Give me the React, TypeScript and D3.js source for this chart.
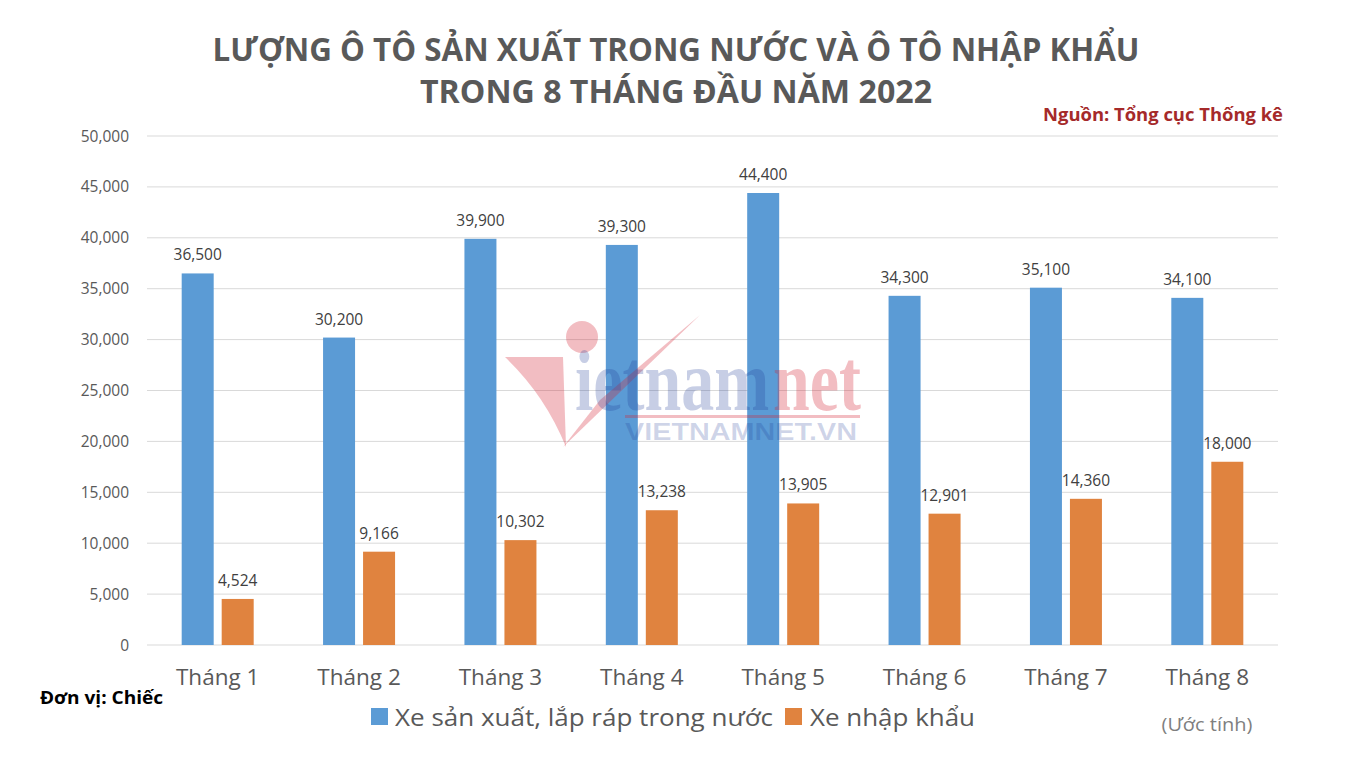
import React from "react";
import * as d3 from "d3";

const months = ["Tháng 1", "Tháng 2", "Tháng 3", "Tháng 4", "Tháng 5", "Tháng 6", "Tháng 7", "Tháng 8"];
const domestic = [36500, 30200, 39900, 39300, 44400, 34300, 35100, 34100];
const imported = [4524, 9166, 10302, 13238, 13905, 12901, 14360, 18000];
const yTicks = [0, 5000, 10000, 15000, 20000, 25000, 30000, 35000, 40000, 45000, 50000];
const seriesNames = ["Xe sản xuất, lắp ráp trong nước", "Xe nhập khẩu"];
const seriesColors = ["#5b9bd5", "#e0833f"];
const titleLines = ["LƯỢNG Ô TÔ SẢN XUẤT TRONG NƯỚC VÀ Ô TÔ NHẬP KHẨU", "TRONG 8 THÁNG ĐẦU NĂM 2022"];

const W = 1345;
const H = 758;
const FONT = "'Open Sans', 'Noto Sans', sans-serif";

export default function App() {
  const x0 = d3.scaleBand<string>().domain(months).range([147, 1278]).padding(0);
  const bw = x0.bandwidth();
  const x1 = d3
    .scaleBand<number>()
    .domain([0, 1])
    .range([bw / 2 - 36, bw / 2 + 36])
    .paddingInner(0.2)
    .paddingOuter(0);
  const y = d3.scaleLinear().domain([0, 50000]).range([645, 136]);
  const fmt = d3.format(",");
  const series = [domestic, imported];

  return (
    <svg width={W} height={H} style={{ position: "absolute", left: 0, top: 0, background: "#fff" }}>
      <rect x={0} y={0} width={W} height={H} fill="#fff" />
      {/* title */}
      <text x={676} y={61} textAnchor="middle" fontFamily={FONT} fontWeight={700} fontSize={32} fill="#595959" textLength={927} lengthAdjust="spacingAndGlyphs">
        {titleLines[0]}
      </text>
      <text x={676} y={103} textAnchor="middle" fontFamily={FONT} fontWeight={700} fontSize={32} fill="#595959" textLength={512} lengthAdjust="spacingAndGlyphs">
        {titleLines[1]}
      </text>
      <text x={1283} y={121} textAnchor="end" fontFamily={FONT} fontWeight={700} fontSize={18} fill="#a52a2a" textLength={240} lengthAdjust="spacingAndGlyphs">
        Nguồn: Tổng cục Thống kê
      </text>

      {/* gridlines + y ticks */}
      {yTicks.map((t) => (
        <g key={t}>
          <line x1={147} x2={1278} y1={y(t)} y2={y(t)} stroke="#d9d9d9" strokeWidth={1} />
          <text x={129} y={y(t) + 5.5} textAnchor="end" fontFamily={FONT} fontSize={15.5} fill="#595959">
            {fmt(t)}
          </text>
        </g>
      ))}

      {/* bars */}
      {months.map((m, i) => (
        <g key={m} transform={`translate(${x0(m)},0)`}>
          {series.map((s, k) => (
            <g key={k}>
              <rect x={x1(k)} y={y(s[i])} width={x1.bandwidth()} height={y(0) - y(s[i])} fill={seriesColors[k]} />
              <text x={(x1(k) as number) + x1.bandwidth() / 2} y={y(s[i]) - 13} textAnchor="middle" fontFamily={FONT} fontSize={15.5} fill="#404040">
                {fmt(s[i])}
              </text>
            </g>
          ))}
          <text x={bw / 2} y={685} textAnchor="middle" fontFamily={FONT} fontSize={22.5} fill="#595959">
            {m}
          </text>
        </g>
      ))}

      {/* watermark */}
      <g>
        <path d="M505,357 L563,357 L566,447 Q545,395 505,357 Z" fill="#d42535" fillOpacity={0.3} />
        <path d="M563,447 L700,315 L600,400 Z" fill="#d42535" fillOpacity={0.3} />
        <circle cx={582} cy={337} r={16} fill="#d42535" fillOpacity={0.3} />
        <rect x={625} y={415} width={235} height={3} fill="#d42535" fillOpacity={0.3} />
        <text transform="translate(575,410) scale(1,1.33)" fontWeight={700} fontFamily="'Liberation Serif', serif" fontSize={66} fill="#1f3d99" fillOpacity={0.25}>
          ietnam
        </text>
        <text transform="translate(773,410) scale(1,1.33)" fontWeight={700} fontFamily="'Liberation Serif', serif" fontSize={66} fill="#d42535" fillOpacity={0.3}>
          net
        </text>
        <text transform="translate(625,440) scale(1.2,1)" fontWeight={700} fontFamily="'Liberation Sans', sans-serif" fontSize={24} fill="#1f3d99" fillOpacity={0.22}>
          VIETNAMNET.VN
        </text>
      </g>

      {/* legend */}
      <rect x={371} y={708} width={17} height={17} fill={seriesColors[0]} />
      <text x={395} y={726} fontFamily={FONT} fontSize={24} fill="#595959" textLength={378} lengthAdjust="spacingAndGlyphs">
        {seriesNames[0]}
      </text>
      <rect x={785} y={708} width={17} height={17} fill={seriesColors[1]} />
      <text x={810} y={726} fontFamily={FONT} fontSize={24} fill="#595959" textLength={165} lengthAdjust="spacingAndGlyphs">
        {seriesNames[1]}
      </text>

      <text x={40} y={704} fontFamily={FONT} fontWeight={700} fontSize={18} fill="#000" textLength={123} lengthAdjust="spacingAndGlyphs">
        Đơn vị: Chiếc
      </text>
      <text x={1207} y={731} textAnchor="middle" fontFamily={FONT} fontSize={19} fill="#7f7f7f" textLength={91} lengthAdjust="spacingAndGlyphs">
        (Ước tính)
      </text>
    </svg>
  );
}
